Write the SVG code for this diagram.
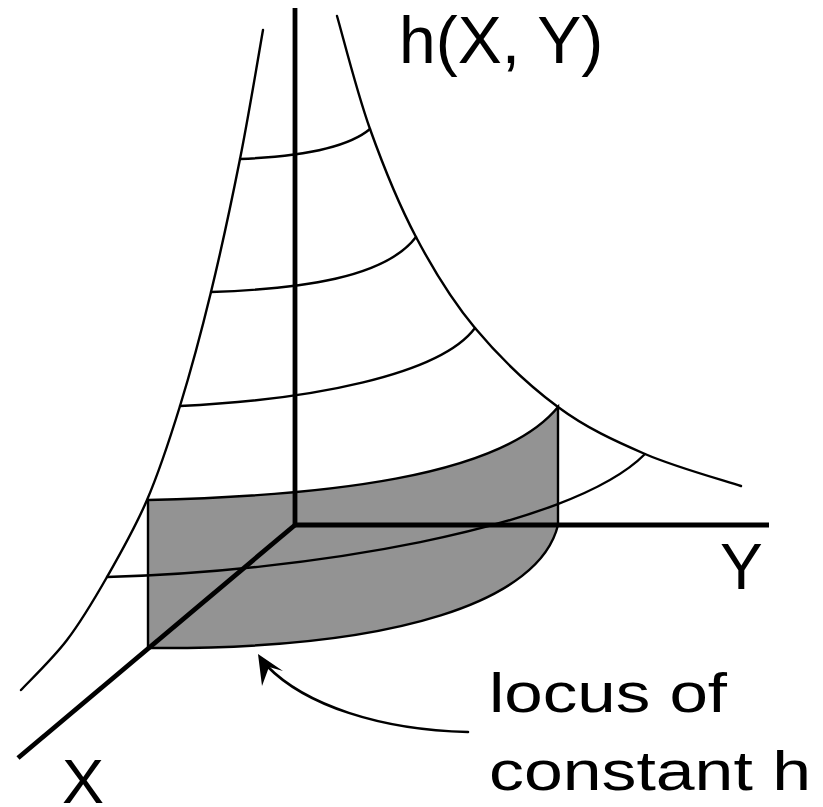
<svg xmlns="http://www.w3.org/2000/svg" width="823" height="807" viewBox="0 0 823 807">
<style>
.thin{fill:none;stroke:#000;stroke-width:2.4;stroke-linecap:round}
.axis{fill:none;stroke:#000;stroke-width:4.8}
.shade{fill:#939393;stroke:#000;stroke-width:2.4;stroke-linejoin:miter}
.lbl{font-family:"Liberation Sans",Arial,sans-serif;fill:#000}
</style>
<rect width="823" height="807" fill="#fff"/>
<g id="surface">
<path id="shaded-locus" class="shade" d="M148,500 C320,496 500,478 558,407 L558,525 C540,600 400,650 148,648 Z"/>
<path id="left-edge" class="thin" d="M263,30 C259.2,51.5 248.7,115.3 240,159 C231.3,202.7 221,250.8 211,292 C201,333.2 190.7,371.3 180,406 C169.3,440.7 159.2,471.5 147,500 C134.8,528.5 120.3,553.7 107,577 C93.7,600.3 81.3,621.2 67,640 C52.7,658.8 28.7,681.7 21,690"/>
<path id="right-edge" class="thin" d="M337,16 C342.5,34.8 356.8,92.2 370,129 C383.2,165.8 398.5,203.8 416,237 C433.5,270.2 451.3,299.7 475,328 C498.7,356.3 529.7,386 558,407 C586.3,428 614.5,440.8 645,454 C675.5,467.2 725,480.7 741,486"/>
<path id="contour1" class="thin" d="M240,159 C290,157 345,150 370,129"/>
<path id="contour2" class="thin" d="M211,292 C300,289 385,278 416,237"/>
<path id="contour3" class="thin" d="M180,406 C310,400 440,375 475,328"/>
<path id="contour5" class="thin" d="M107,577 C300,572 570,530 645,454"/>
</g>
<g id="axes">
<line id="h-axis" class="axis" x1="295" y1="8" x2="295" y2="525"/>
<line id="y-axis" class="axis" x1="293" y1="525" x2="769" y2="525"/>
<line id="x-axis" class="axis" x1="295" y1="525" x2="18" y2="758"/>
</g>
<g id="connectors">
<path class="thin" d="M468,732 C380,730 305,705 267,666" style="stroke-width:2.6"/>
<path d="M258,654 L283,671 L269,667 L262,686 Z" fill="#000"/>
</g>
<g id="labels">
<text id="label-h" class="lbl" x="399" y="63" font-size="66">h(X, Y)</text>
<text id="label-Y" class="lbl" x="720" y="589" font-size="64">Y</text>
<text id="label-X" class="lbl" x="62" y="803" font-size="63">X</text>
<text id="label-locus1" class="lbl" x="489" y="712" font-size="55" textLength="238" lengthAdjust="spacingAndGlyphs">locus of</text>
<text id="label-locus2" class="lbl" x="489" y="790" font-size="55" textLength="322" lengthAdjust="spacingAndGlyphs">constant h</text>
</g>
</svg>
